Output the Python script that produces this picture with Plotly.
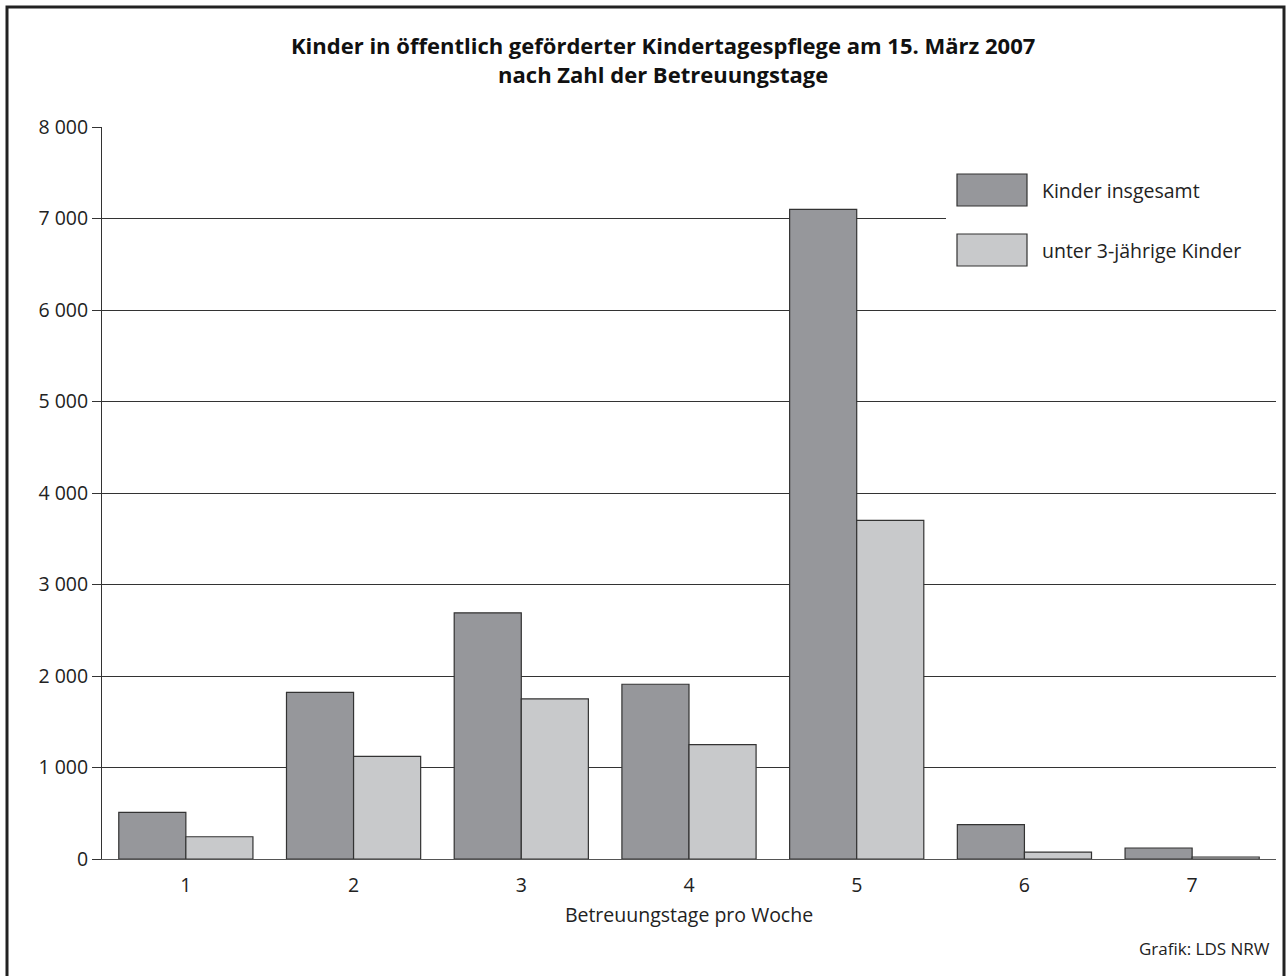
import plotly.graph_objects as go

# ---- data ----
tage = [1, 2, 3, 4, 5, 6, 7]
kinder_insgesamt = [510, 1820, 2690, 1910, 7100, 375, 120]
unter_3 = [243, 1122, 1750, 1250, 3700, 76, 22]
y_ticks = [0, 1000, 2000, 3000, 4000, 5000, 6000, 7000, 8000]
y_ticklabels = ["0", "1 000", "2 000", "3 000", "4 000", "5 000", "6 000", "7 000", "8 000"]
series_names = ["Kinder insgesamt", "unter 3-jährige Kinder"]
title_lines = ["Kinder in öffentlich geförderter Kindertagespflege am 15. März 2007",
               "nach Zahl der Betreuungstage"]

DARK = "#96979b"
LIGHT = "#c8c9cb"
EDGE = "#333333"
FONT = "Open Sans"
FS = 19.5

W, H = 1287, 976
L, R, T, B = 102, 1276, 127, 859


def px(x):
    return (x - L) / (R - L)


def py(y):
    return (B - y) / (B - T)


fig = go.Figure()
fig.add_trace(go.Bar(x=tage, y=kinder_insgesamt, name=series_names[0],
                     marker=dict(color=DARK, line=dict(color=EDGE, width=1.2))))
fig.add_trace(go.Bar(x=tage, y=unter_3, name=series_names[1],
                     marker=dict(color=LIGHT, line=dict(color=EDGE, width=1.2))))

fig.update_layout(
    width=W, height=H,
    margin=dict(l=L, r=W - R, t=T, b=H - B),
    paper_bgcolor="white", plot_bgcolor="white",
    barmode="group", bargap=0.2, bargroupgap=0,
    showlegend=False,
    font=dict(family=FONT, size=FS, color="#222222"),
)
fig.update_xaxes(range=[0.5, 7.5], tickvals=tage, ticktext=[str(t) for t in tage],
                 showgrid=False, showline=True, linecolor="#555555", linewidth=1,
                 ticks="", ticklabelstandoff=9, zeroline=False,
                 title=dict(text="Betreuungstage pro Woche", standoff=10,
                            font=dict(family=FONT, size=FS)))
fig.update_yaxes(range=[0, 8000], tickvals=y_ticks, ticktext=y_ticklabels,
                 showgrid=True, gridcolor=EDGE, gridwidth=1,
                 showline=True, linecolor=EDGE, linewidth=1,
                 ticks="outside", ticklen=9, tickcolor=EDGE, zeroline=False)

shapes = []
# white area behind legend
shapes.append(dict(type="rect", xref="paper", yref="paper", layer="above",
                   x0=px(946), x1=px(1276), y0=py(282), y1=py(150),
                   fillcolor="white", line=dict(width=0)))
# legend swatches
for i, col in enumerate([DARK, LIGHT]):
    y0 = 174 + i * 60
    shapes.append(dict(type="rect", xref="paper", yref="paper", layer="above",
                       x0=px(957), x1=px(1027), y0=py(y0 + 32), y1=py(y0),
                       fillcolor=col, line=dict(color=EDGE, width=1.2)))
# outer frame
shapes.append(dict(type="rect", xref="paper", yref="paper", layer="above",
                   x0=px(7), x1=px(1284), y0=py(985), y1=py(7),
                   fillcolor="rgba(0,0,0,0)", line=dict(color="#222222", width=3)))
fig.update_layout(shapes=shapes)

annotations = []
annotations.append(dict(xref="paper", yref="paper", x=px(663), y=py(60),
                        xanchor="center", yanchor="middle", showarrow=False,
                        text="<b>" + "<br>".join(title_lines) + "</b>",
                        font=dict(family=FONT, size=22, color="#111111")))
for i, name in enumerate(series_names):
    annotations.append(dict(xref="paper", yref="paper", x=px(1040), y=py(190 + i * 60),
                            xanchor="left", yanchor="middle", showarrow=False,
                            text=name, font=dict(family=FONT, size=FS, color="#222222")))
annotations.append(dict(xref="paper", yref="paper", x=px(1272), y=py(948),
                        xanchor="right", yanchor="middle", showarrow=False,
                        text="Grafik: LDS NRW", font=dict(family=FONT, size=17, color="#222222")))
fig.update_layout(annotations=annotations)

fig.write_html("out.html", config={"displayModeBar": False},
               post_script="document.body.style.margin='0';")
